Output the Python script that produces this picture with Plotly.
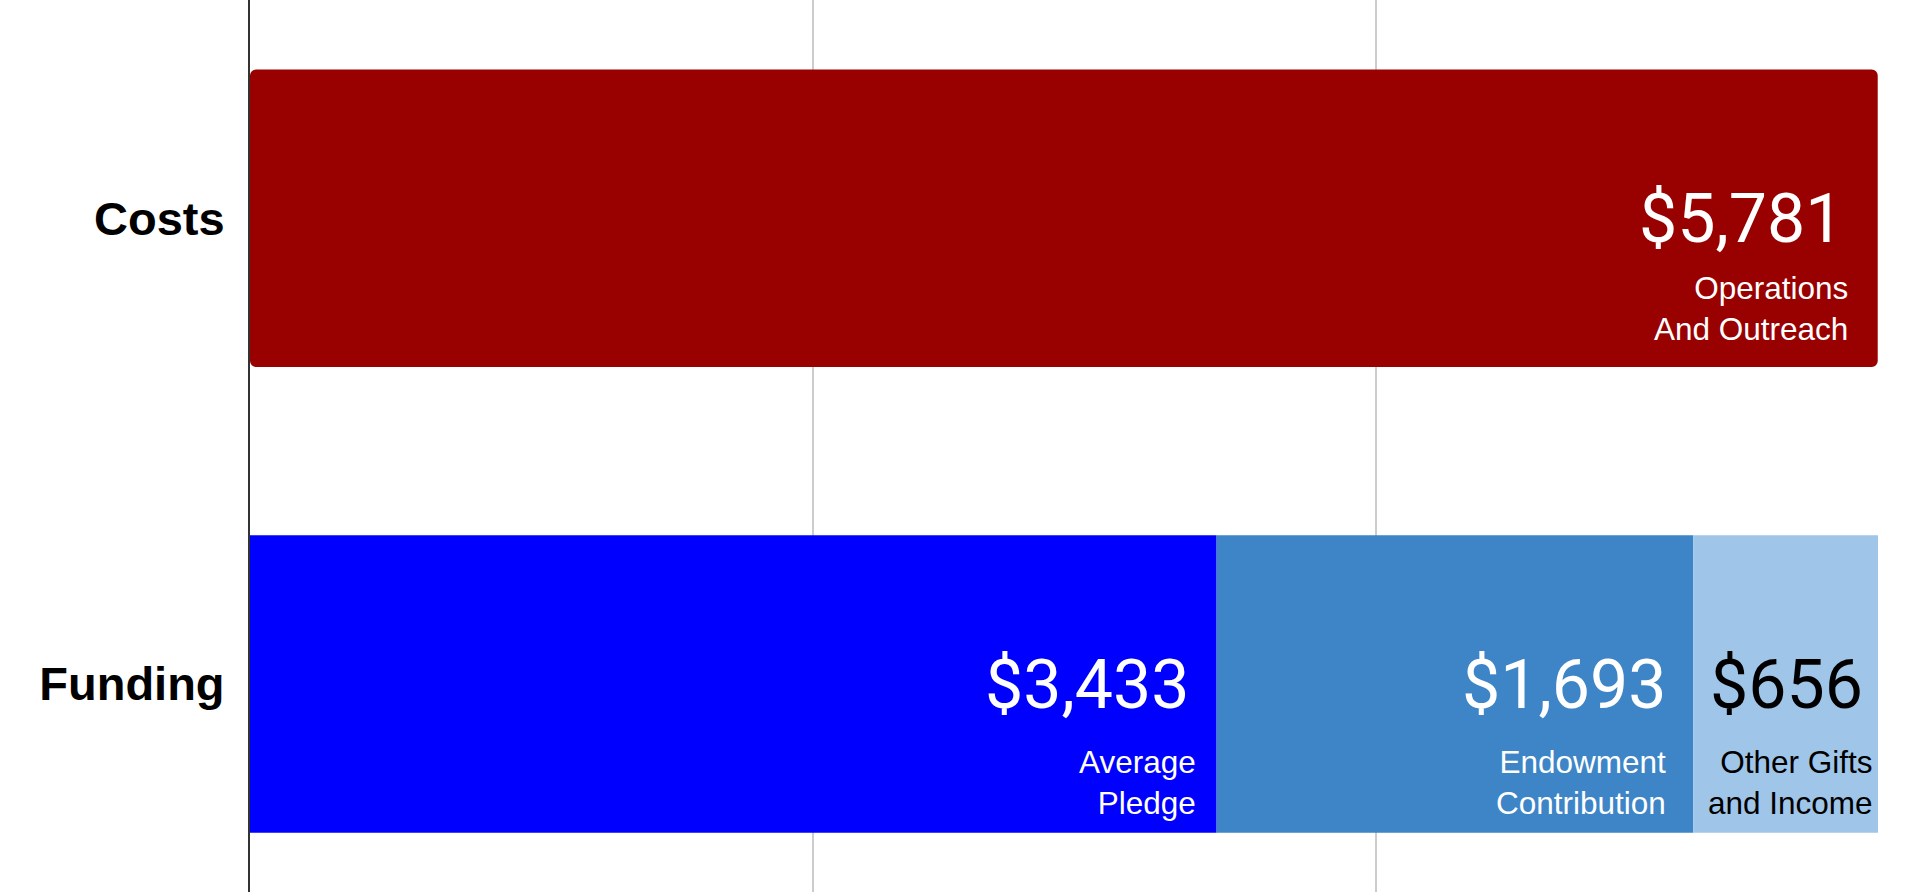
import plotly.graph_objects as go

# rows top to bottom
rows = ["Costs", "Funding"]

cost_labels = ["Operations<br>And Outreach"]
cost_values = [5781]

fund_labels = ["Average<br>Pledge", "Endowment<br>Contribution", "Other Gifts<br>and Income"]
fund_values = [3433, 1693, 656]

grid_values = [2000, 4000]

# styling for each segment, in drawing order
seg_colors = ["#990000", "#0000ff", "#3d85c6", "#9fc5e8"]
text_colors = ["white", "white", "white", "black"]
value_pad = [33, 26, 25, 13]
label_pad = [28, 19, 25, 3]
label_drop = {"Costs": -90, "Funding": -99}

segments = []
for lab, val in zip(cost_labels, cost_values):
    segments.append(("Costs", lab, val))
for lab, val in zip(fund_labels, fund_values):
    segments.append(("Funding", lab, val))

fig = go.Figure()
annotations = []
ends = {r: 0 for r in rows}
for i, (row, lab, val) in enumerate(segments):
    start = ends[row]
    ends[row] += val
    fig.add_trace(go.Bar(
        y=[row], x=[val], base=[start], orientation="h",
        marker=dict(color=seg_colors[i], line=dict(width=0),
                    cornerradius=6 if row == "Costs" else 0),
        hoverinfo="skip", showlegend=False,
    ))
    annotations.append(dict(
        x=ends[row], y=row, xref="x", yref="y",
        text=f"${val:,}", showarrow=False,
        xanchor="right", yanchor="middle", xshift=-value_pad[i], yshift=-1,
        font=dict(family="Roboto", size=68, color=text_colors[i]),
    ))
    annotations.append(dict(
        x=ends[row], y=row, xref="x", yref="y",
        text=lab, showarrow=False, align="right",
        xanchor="right", yanchor="middle", xshift=-label_pad[i], yshift=label_drop[row],
        font=dict(family="Liberation Sans, Arial", size=31.5, color=text_colors[i]),
    ))

total = max(ends.values())

fig.update_layout(
    barmode="overlay",
    bargap=0.361,
    width=1920, height=892,
    paper_bgcolor="white", plot_bgcolor="white",
    margin=dict(l=250, r=42, t=0, b=0),
    annotations=annotations,
)
fig.update_xaxes(
    range=[0, total], tickvals=grid_values, showticklabels=False,
    showgrid=True, gridcolor="#cccccc", gridwidth=2, zeroline=False,
    ticks="", fixedrange=True,
)
fig.update_yaxes(
    categoryorder="array", categoryarray=rows[::-1],
    range=[-0.447, 1.469], showline=True, linecolor="#333333", linewidth=2,
    ticks="", ticklabelstandoff=14, showgrid=False,
    tickfont=dict(family="Liberation Sans, Arial", size=47, color="black", weight="bold"),
    fixedrange=True,
)

fig.write_html("out.html", config={"displayModeBar": False},
               post_script="document.body.style.margin='0';")
